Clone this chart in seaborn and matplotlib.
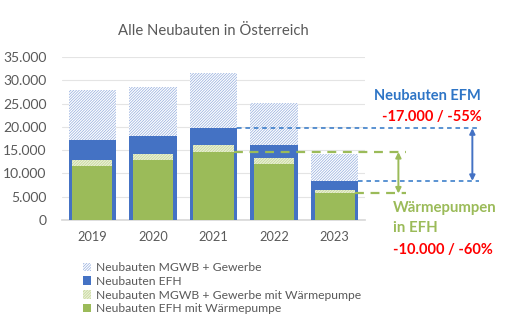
import matplotlib

matplotlib.use("Agg")

import matplotlib.pyplot as plt
import pandas as pd
import seaborn as sns
from matplotlib.patches import Patch

YEARS = ["2019", "2020", "2021", "2022", "2023"]
TOTAL_ALL = [27900, 28600, 31500, 25200, 14100]      # MGWB + Gewerbe + EFH
EFH = [17100, 18100, 19700, 16200, 8400]
WP_ALL = [12800, 14100, 16200, 13300, 6550]          # mit Wärmepumpe gesamt
WP_EFH = [11700, 12800, 14600, 12100, 5700]

LEGEND_LABELS = [
    "Neubauten MGWB + Gewerbe",
    "Neubauten EFH",
    "Neubauten MGWB + Gewerbe mit Wärmepumpe",
    "Neubauten EFH mit Wärmepumpe",
]

BLUE_HATCH = "#92ACDD"
BLUE = "#4472C4"
GREEN_LIGHT = "#E9F0D6"
GREEN_HATCH = "#C3D596"
GREEN = "#9BBB59"
RED = "#FF0000"
TEXT_BLUE = "#2E75C6"
TEXT_GREY = "#595959"
HATCH = "/" * 12


def main() -> None:
    sns.set_theme(style="white")
    plt.rcParams["font.family"] = ["Lato", "DejaVu Sans"]
    plt.rcParams["hatch.linewidth"] = 0.5

    df = pd.DataFrame(
        {"year": YEARS, "total": TOTAL_ALL, "efh": EFH, "wp_all": WP_ALL, "wp_efh": WP_EFH}
    )

    fig = plt.figure(figsize=(5.12, 3.27), dpi=100)
    ax = fig.add_axes([0.121, 0.327, 0.592, 0.499])

    wide, narrow = 0.78, 0.66

    sns.barplot(data=df, x="year", y="total", width=wide, color="white", ax=ax,
                saturation=1, linewidth=0, zorder=2)
    n = len(ax.patches)
    for p in ax.patches[:n]:
        p.set_hatch(HATCH)
        p.set_edgecolor(BLUE_HATCH)
        p.set_linewidth(0)

    sns.barplot(data=df, x="year", y="efh", width=wide, color=BLUE, ax=ax,
                saturation=1, linewidth=0, zorder=3)
    m = len(ax.patches)

    sns.barplot(data=df, x="year", y="wp_all", width=narrow, color=GREEN_LIGHT, ax=ax,
                saturation=1, linewidth=0, zorder=4)
    for p in ax.patches[m:]:
        p.set_hatch(HATCH)
        p.set_edgecolor(GREEN_HATCH)
        p.set_linewidth(0)

    sns.barplot(data=df, x="year", y="wp_efh", width=narrow, color=GREEN, ax=ax,
                saturation=1, linewidth=0, zorder=5)

    ax.set_ylim(0, 35000)
    ax.set_xlim(-0.5, 4.5)
    ax.set_yticks(range(0, 35001, 5000))
    ax.set_yticklabels([f"{v:,}".replace(",", ".") for v in range(0, 35001, 5000)])
    ax.set_xlabel("")
    ax.set_ylabel("")
    ax.grid(True, axis="y", color="#E4E4E4", linewidth=0.8, zorder=0)
    ax.set_axisbelow(True)
    for side in ("top", "right", "left"):
        ax.spines[side].set_visible(False)
    ax.spines["bottom"].set_color("#D9D9D9")
    ax.tick_params(axis="y", length=0, labelsize=10, colors=TEXT_GREY, pad=11)
    ax.tick_params(axis="x", length=0, labelsize=9.2, colors=TEXT_GREY, pad=8)

    ax.set_title("Alle Neubauten in Österreich", fontsize=10.7, color=TEXT_GREY, pad=16)

    # Vergleichslinien 2021 -> 2023
    blue_x_end, blue_arrow_x = 6.38, 6.27
    green_x_end, green_arrow_x = 5.17, 5.05
    ax.plot([2 + wide / 2, blue_x_end], [EFH[2]] * 2, ls="--", color=TEXT_BLUE,
            lw=1.1, clip_on=False, zorder=6, dashes=(3, 2.5))
    ax.plot([4 + wide / 2, blue_x_end], [EFH[4]] * 2, ls="--", color=TEXT_BLUE,
            lw=1.1, clip_on=False, zorder=6, dashes=(3, 2.5))
    ax.plot([2 + narrow / 2, green_x_end], [WP_EFH[2]] * 2, ls="--", color=GREEN,
            lw=1.6, clip_on=False, zorder=6, dashes=(4, 3))
    ax.plot([4 + narrow / 2, green_x_end], [WP_EFH[4]] * 2, ls="--", color=GREEN,
            lw=1.6, clip_on=False, zorder=6, dashes=(4, 3))
    ax.annotate("", xy=(blue_arrow_x, EFH[4]), xytext=(blue_arrow_x, EFH[2]),
                arrowprops=dict(arrowstyle="<|-|>", color=BLUE, lw=1.4,
                                mutation_scale=8, shrinkA=0, shrinkB=0),
                annotation_clip=False)
    ax.annotate("", xy=(green_arrow_x, WP_EFH[4]), xytext=(green_arrow_x, WP_EFH[2]),
                arrowprops=dict(arrowstyle="<|-|>", color=GREEN, lw=1.4,
                                mutation_scale=8, shrinkA=0, shrinkB=0),
                annotation_clip=False)

    fig.text(0.730, 0.707, "Neubauten EFM", color=TEXT_BLUE, fontsize=10.5,
             fontweight="bold", va="center")
    fig.text(0.940, 0.643, "-17.000 / -55%", color=RED, fontsize=10.5,
             fontweight="bold", va="center", ha="right")
    fig.text(0.767, 0.365, "Wärmepumpen", color=GREEN, fontsize=10.8,
             fontweight="bold", va="center")
    fig.text(0.767, 0.304, "in EFH", color=GREEN, fontsize=10.8,
             fontweight="bold", va="center")
    fig.text(0.767, 0.235, "-10.000 / -60%", color=RED, fontsize=10.5,
             fontweight="bold", va="center")

    handles = [
        Patch(facecolor="white", edgecolor=BLUE_HATCH, hatch=HATCH, linewidth=0),
        Patch(facecolor=BLUE, linewidth=0),
        Patch(facecolor=GREEN_LIGHT, edgecolor=GREEN_HATCH, hatch=HATCH, linewidth=0),
        Patch(facecolor=GREEN, linewidth=0),
    ]
    fig.legend(handles, LEGEND_LABELS, loc="upper left", bbox_to_anchor=(0.162, 0.198),
               frameon=False, fontsize=8.7, handlelength=0.7, handleheight=0.7,
               handletextpad=0.35, labelspacing=0.22, borderpad=0, borderaxespad=0,
               labelcolor=TEXT_GREY)

    fig.savefig("out.png", dpi=100)
    plt.close(fig)


if __name__ == "__main__":
    main()
